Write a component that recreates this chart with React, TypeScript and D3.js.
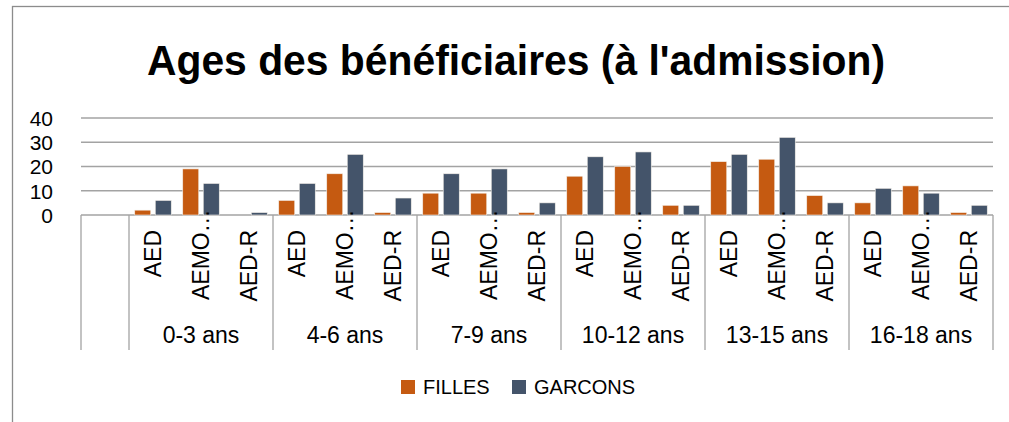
import * as d3 from "d3"

const ageGroups = ["0-3 ans", "4-6 ans", "7-9 ans", "10-12 ans", "13-15 ans", "16-18 ans"]
const mesures = ["AED", "AEMO…", "AED-R"]
const seriesNames = ["FILLES", "GARCONS"]
const seriesColors = ["#C55A11", "#44546A"]

// one value per (age group, mesure), in the order above
const filles = [2, 19, 0, 6, 17, 1, 9, 9, 1, 16, 20, 4, 22, 23, 8, 5, 12, 1]
const garcons = [6, 13, 1, 13, 25, 7, 17, 19, 5, 24, 26, 4, 25, 32, 5, 11, 9, 4]

const yTicks = [0, 10, 20, 30, 40]

const W = 1009
const H = 422
const plot = { left: 81, right: 993, top: 118, bottom: 215 }
const axisBottom = 350

export default function App() {
  // leading empty slot, then one slot per (group, mesure)
  const slots = ["", ...ageGroups.flatMap((g) => mesures.map((m) => `${g}|${m}`))]
  const x = d3.scaleBand().domain(slots).range([plot.left, plot.right]).padding(0)
  const slotW = x.bandwidth()
  const inner = d3.scaleBand().domain(seriesNames).range([5.75, slotW - 5.75]).paddingInner(0.22)
  const y = d3.scaleLinear().domain([0, 40]).range([plot.bottom, plot.top])

  const values = [filles, garcons]
  const groupEdges = [plot.left, ...ageGroups.map((g) => x(`${g}|${mesures[0]}`)!), plot.right]

  return (
    <svg
      width={W}
      height={H}
      style={{ position: "absolute", left: 0, top: 0, background: "#fff" }}
      fontFamily="'Liberation Sans', Arial, sans-serif"
    >
      {/* chart border (right/bottom fall outside the picture) */}
      <rect x={12.5} y={6.5} width={1010} height={430} fill="none" stroke="#8c8c8c" strokeWidth={1.3} />

      {/* title */}
      <text
        x={516}
        y={75}
        textAnchor="middle"
        fontSize={42}
        fontWeight={700}
        textLength={738}
        lengthAdjust="spacingAndGlyphs"
        fill="#000"
      >
        Ages des bénéficiaires (à l'admission)
      </text>

      {/* gridlines */}
      {yTicks.map((t) => (
        <line key={t} x1={plot.left} x2={plot.right} y1={y(t)} y2={y(t)} stroke="#a3a3a3" strokeWidth={1.3} />
      ))}

      {/* y tick labels */}
      {yTicks.map((t) => (
        <text key={t} x={53} y={y(t)} dy="0.38em" textAnchor="end" fontSize={21} fill="#000">
          {t}
        </text>
      ))}

      {/* bars */}
      {values.map((vals, si) =>
        vals.map((v, i) => {
          const slot = slots[i + 1]
          const y0 = y(0)
          const y1 = y(v)
          if (v <= 0) return null
          return (
            <rect
              key={`${si}-${i}`}
              x={x(slot)! + inner(seriesNames[si])!}
              y={y1}
              width={inner.bandwidth()}
              height={y0 - y1}
              fill={seriesColors[si]}
              stroke="#f3efe9"
              strokeWidth={0.6}
            />
          )
        })
      )}

      {/* category axis separators */}
      {[plot.left, ...groupEdges.slice(1)].map((gx, i) => (
        <line key={i} x1={gx} x2={gx} y1={plot.bottom} y2={axisBottom} stroke="#a3a3a3" strokeWidth={1.3} />
      ))}

      {/* rotated mesure labels */}
      {slots.slice(1).map((s) => {
        const m = s.split("|")[1]
        const cx = x(s)! + slotW / 2
        const truncated = m.endsWith("…")
        const yAnchor = truncated ? 300 : 230
        return (
          <text
            key={s}
            transform={`translate(${cx},${yAnchor}) rotate(-90)`}
            dy="0.36em"
            textAnchor={truncated ? "start" : "end"}
            fontSize={23}
            fill="#000"
          >
            {m}
          </text>
        )
      })}

      {/* age group labels */}
      {ageGroups.map((g, i) => (
        <text
          key={g}
          x={(groupEdges[i + 1] + groupEdges[i + 2]) / 2}
          y={343}
          textAnchor="middle"
          fontSize={23}
          fill="#000"
        >
          {g}
        </text>
      ))}

      {/* legend */}
      {seriesNames.map((n, i) => {
        const lx = i === 0 ? 401 : 512
        return (
          <g key={n}>
            <rect x={lx} y={380} width={14} height={14} fill={seriesColors[i]} />
            <text x={lx + 22} y={394} fontSize={20} fill="#000">
              {n}
            </text>
          </g>
        )
      })}
    </svg>
  )
}
